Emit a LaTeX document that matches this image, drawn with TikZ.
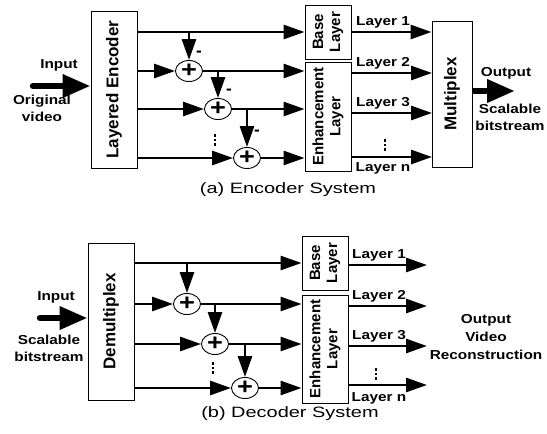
\documentclass[tikz,border=0pt]{standalone}
\usepackage{fontspec}
\setmainfont{Liberation Sans}
\newfontfamily\widefont[FakeStretch=1.18]{Liberation Sans}
\newfontfamily\capfont[FakeStretch=1.33]{Liberation Sans}
\usetikzlibrary{arrows.meta,shapes.geometric}
\newcommand\mydotcolumn{\vbox{\offinterlineskip\hbox{\rule{2.8pt}{2.8pt}}\vskip2pt\hbox{\rule{2.8pt}{2.8pt}}\vskip2pt\hbox{\rule{2.8pt}{2.8pt}}}}
\begin{document}
\begin{tikzpicture}[x=1pt,y=-1pt,
  box/.style={draw, line width=0.9pt, inner sep=0pt},
  sum/.style={draw, ellipse, line width=0.9pt, minimum width=27pt, minimum height=21pt, inner sep=0pt,
    font=\widefont\bfseries\fontsize{23}{23}\selectfont},
  flow/.style={line width=2.7pt, -{Triangle[length=21pt 0 0,width=14pt 0 0]}},
  bigarrow/.style={line width=6.5pt, -{Triangle[length=28pt 0 0,width=22pt 0 0]}},
  lbl/.style={font=\widefont\bfseries\fontsize{13}{17}\selectfont, align=center, inner sep=0pt},
  vlbl/.style={font=\bfseries\fontsize{17}{18}\selectfont, rotate=90, align=center, inner sep=0pt},
  vlbls/.style={font=\bfseries\fontsize{15}{17}\selectfont, rotate=90, align=center, inner sep=0pt},
  caption/.style={font=\capfont\fontsize{15}{17}\selectfont, inner sep=0pt},
  minus/.style={font=\bfseries\fontsize{17}{17}\selectfont, inner sep=0pt},
  vdots/.style={inner sep=0pt}
]
\useasboundingbox (0,0) rectangle (547,434);

% ================= Encoder =================
\node[box, minimum width=46pt, minimum height=157pt] (enc) at (114,89.5) {};
\node[vlbl] (encT) at (enc.center) {Layered Encoder};
\node[box, minimum width=46pt, minimum height=54pt] (base) at (328,32) {};
\node[vlbls] (baseT) at (base.center) {Base\\Layer};
\node[box, minimum width=46pt, minimum height=109pt] (enh) at (328,116.5) {};
\node[vlbls] (enhT) at (enh.center) {Enhancement\\Layer};
\node[box, minimum width=40pt, minimum height=146pt] (mux) at (452,94) {};
\node[vlbl] (muxT) at (mux.center) {Multiplex};

\node[sum] (s1) at (189,71) {+};
\node[sum] (s2) at (218,109) {+};
\node[sum] (s3) at (247,158) {+};

\draw[flow] (enc.east |- base.west) -- (base.west);
\draw[flow] (enc.east |- s1) -- (s1.west);
\draw[flow] (s1.east) -- (enh.west |- s1);
\draw[flow] (enc.east |- s2) -- (s2.west);
\draw[flow] (s2.east) -- (enh.west |- s2);
\draw[flow] (enc.east |- s3) -- (s3.west);
\draw[flow] (s3.east) -- (enh.west |- s3);
\draw[flow] (s1 |- base.west) -- (s1.north);
\draw[flow] (s2 |- s1) -- (s2.north);
\draw[flow] (s3 |- s2) -- (s3.north);

\node[minus] (m1) at (199,54) {-};
\node[minus] (m2) at (229,92) {-};
\node[minus] (m3) at (257,133) {-};
\node[vdots] (d1) at (215,140) {\mydotcolumn};

\coordinate (x2) at (432,73);
\coordinate (x3) at (432,113);
\coordinate (x4) at (432,157);
\draw[flow] (base.east) -- (mux.west |- base.east);
\draw[flow] (enh.east |- x2) -- (x2);
\draw[flow] (enh.east |- x3) -- (x3);
\draw[flow] (enh.east |- x4) -- (x4);
\node[lbl] (l1) at (383,22) {Layer 1};
\node[lbl] (l2) at (383,63) {Layer 2};
\node[lbl] (l3) at (383,103) {Layer 3};
\node[lbl] (ln) at (383,168) {Layer n};
\node[vdots] (d2) at (385,145) {\mydotcolumn};

\coordinate (inA) at (33,86);
\draw[bigarrow, line cap=round] (inA) -- (inA -| enc.west);
\node[lbl] (inAT) at (59,65) {Input};
\node[lbl] (inAS) at (42,108) {Original\\video};

\coordinate (outA) at (515,91);
\draw[bigarrow] (mux.east |- outA) -- (outA);
\node[lbl] (outAT) at (506,73) {Output};
\node[lbl] (outAS) at (510,117) {Scalable\\bitstream};

\node[caption] (capA) at (288,190) {(a) Encoder System};

% ================= Decoder =================
\node[box, minimum width=46pt, minimum height=157pt] (dem) at (111,321.5) {};
\node[vlbl] (demT) at (dem.center) {Demultiplex};
\node[box, minimum width=46pt, minimum height=54pt] (base2) at (325,263) {};
\node[vlbls] (base2T) at (base2.center) {Base\\Layer};
\node[box, minimum width=46pt, minimum height=108pt] (enh2) at (325,349) {};
\node[vlbls] (enh2T) at (enh2.center) {Enhancement\\Layer};

\node[sum] (t1) at (187,304) {+};
\node[sum] (t2) at (215,344) {+};
\node[sum] (t3) at (245,388) {+};

\draw[flow] (dem.east |- base2.west) -- (base2.west);
\draw[flow] (dem.east |- t1) -- (t1.west);
\draw[flow] (t1.east) -- (enh2.west |- t1);
\draw[flow] (dem.east |- t2) -- (t2.west);
\draw[flow] (t2.east) -- (enh2.west |- t2);
\draw[flow] (dem.east |- t3) -- (t3.west);
\draw[flow] (t3.east) -- (enh2.west |- t3);
\draw[flow] (t1 |- base2.west) -- (t1.north);
\draw[flow] (t2 |- t1) -- (t2.north);
\draw[flow] (t3 |- t2) -- (t3.north);
\node[vdots] (d3) at (213,368) {\mydotcolumn};

\coordinate (y1) at (427,265);
\coordinate (y2) at (427,306);
\coordinate (y3) at (427,346);
\coordinate (y4) at (427,385);
\draw[flow] (base2.east |- y1) -- (y1);
\draw[flow] (enh2.east |- y2) -- (y2);
\draw[flow] (enh2.east |- y3) -- (y3);
\draw[flow] (enh2.east |- y4) -- (y4);
\node[lbl] (k1) at (379,255) {Layer 1};
\node[lbl] (k2) at (379,296) {Layer 2};
\node[lbl] (k3) at (379,336) {Layer 3};
\node[lbl] (kn) at (379,398) {Layer n};
\node[vdots] (d4) at (376,374) {\mydotcolumn};

\coordinate (inB) at (40,318);
\draw[bigarrow, line cap=round] (inB) -- (inB -| dem.west);
\node[lbl] (inBT) at (56,297) {Input};
\node[lbl] (inBS) at (49,348) {Scalable\\bitstream};

\node[lbl, font=\widefont\bfseries\fontsize{13}{18}\selectfont] (outB) at (486,337) {Output\\Video\\Reconstruction};

\node[caption] (capB) at (290,414) {(b) Decoder System};
\end{tikzpicture}
\end{document}
